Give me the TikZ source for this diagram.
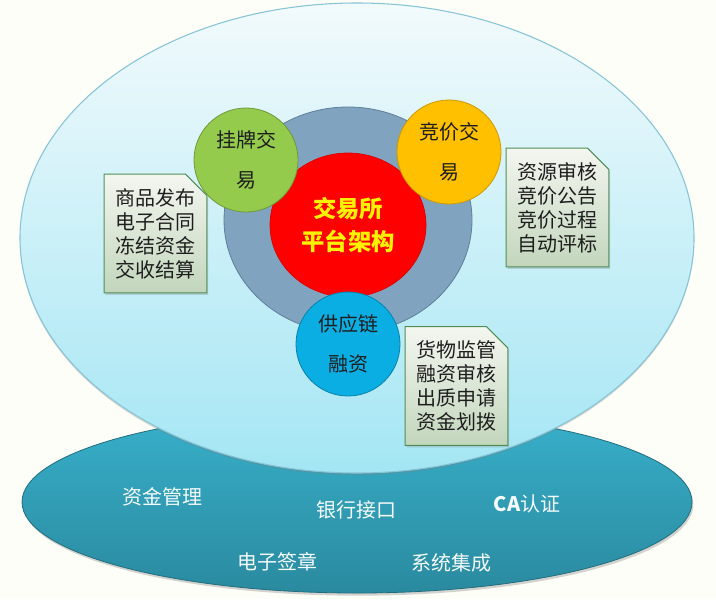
\documentclass[tikz,border=0pt]{standalone}
\usepackage{fontspec}
\usepackage{tikz}
\usetikzlibrary{shapes.geometric,shapes.misc,shadows}
\newfontfamily\cjk{Noto Sans CJK SC}
\definecolor{bgcream}{HTML}{FEFEF8}
\definecolor{skytop}{HTML}{F2FAFC}
\definecolor{skybot}{HTML}{A4E6F4}
\definecolor{skyedge}{HTML}{86C4D6}
\definecolor{tealtop}{HTML}{38B0CB}
\definecolor{tealbot}{HTML}{2A8A9F}
\definecolor{ringgray}{HTML}{80A4BF}
\definecolor{ringedge}{HTML}{5F7F99}
\definecolor{leafgreen}{HTML}{94CB4C}
\definecolor{amber}{HTML}{FFC000}
\definecolor{ocean}{HTML}{0AAEE2}
\definecolor{notetop}{HTML}{F4F6F0}
\definecolor{notebot}{HTML}{C2D6BC}
\definecolor{noteedge}{HTML}{4F8F55}
\definecolor{inkdark}{HTML}{1E1E1E}

\begin{document}
\begin{tikzpicture}[
  x=0.75pt, y=-0.75pt,
  platform/.style={ellipse, inner sep=0pt, minimum width=502.5pt, minimum height=136.5pt,
    top color=tealtop, bottom color=tealbot, draw=tealbot!80!black, line width=0.6pt,
    drop shadow={opacity=0.35, shadow xshift=1pt, shadow yshift=-2pt}},
  base/.style={ellipse, inner sep=0pt, minimum width=505.5pt, minimum height=352.5pt,
    top color=skytop, bottom color=skybot, draw=skyedge, line width=0.8pt,
    drop shadow={opacity=0.3, shadow xshift=0pt, shadow yshift=-1.5pt}},
  ring/.style={ellipse, inner sep=0pt, minimum width=186pt, minimum height=169.5pt,
    fill=ringgray, draw=ringedge, line width=0.6pt},
  core/.style={ellipse, inner sep=0pt, minimum width=117pt, minimum height=108pt,
    fill=red, draw=red!85!black, line width=0.5pt, text=yellow, align=center,
    font=\cjk\bfseries\fontsize{17.5}{25}\selectfont},
  biz/.style={circle, inner sep=0pt, minimum size=78pt, line width=0.6pt,
    text=inkdark, align=center, font=\cjk\fontsize{15}{30}\selectfont},
  note/.style={chamfered rectangle, chamfered rectangle corners=north east,
    chamfered rectangle xsep=8pt, chamfered rectangle ysep=8pt,
    minimum width=77pt, minimum height=89pt, inner sep=0pt,
    top color=notetop, bottom color=notebot, draw=noteedge, line width=0.8pt,
    text=inkdark, align=left, font=\cjk\fontsize{15}{18}\selectfont,
    drop shadow={opacity=0.3, shadow xshift=1pt, shadow yshift=-1.5pt}},
  service/.style={text=white!92!skyedge, font=\cjk\fontsize{15}{18}\selectfont}
]
% 背景
\fill[bgcream] (0,0) rectangle (716,599);
\useasboundingbox (0,0) rectangle (716,599);

% 底座
\node[platform] (P) at (357,502) {};
\node[base] (B) at (357,238) {};

% 中心
\node[ring] (R) at (348,220) {};
\node[core] (C) at (348,225) {交易所\\平台架构};

% 三个业务
\node[biz, fill=leafgreen, draw=leafgreen!75!black] (G) at (246,160) {挂牌交\\易};
\node[biz, fill=amber, draw=amber!80!black] (J) at (449,152) {竞价交\\易};
\node[biz, fill=ocean, draw=ocean!75!black] (S) at (348,344) {供应链\\融资};

% 说明
\node[note] (NG) at (155.5,233.5) {商品发布\\电子合同\\冻结资金\\交收结算};
\node[note] (NJ) at (557.5,207.5) {资源审核\\竞价公告\\竞价过程\\自动评标};
\node[note] (NS) at (456.5,386) {货物监管\\融资审核\\出质申请\\资金划拨};

% 底层服务
\node[service] (s1) at (162,497) {资金管理};
\node[service] (s2) at (356,510) {银行接口};
\node[service] (s3) at (527,504) {{\bfseries CA}认证};
\node[service] (s4) at (277,562) {电子签章};
\node[service] (s5) at (451,563) {系统集成};

\end{tikzpicture}
\end{document}
